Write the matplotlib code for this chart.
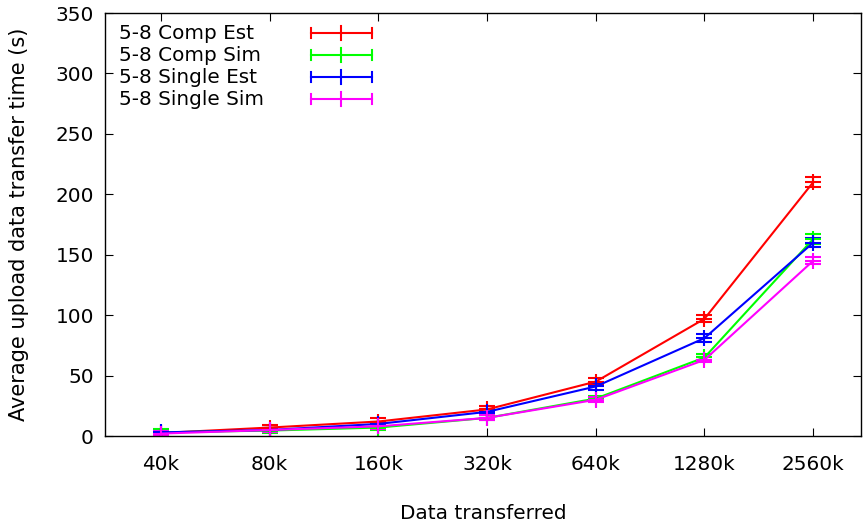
import numpy as np
import matplotlib
matplotlib.use("Agg")
import matplotlib.pyplot as plt
from matplotlib.lines import Line2D

sizes = ["40k", "80k", "160k", "320k", "640k", "1280k", "2560k"]

comp_est = [2.5, 7, 12, 22, 45, 97, 210]
comp_est_err = [1.5, 2.5, 3, 3, 3, 3, 4]
comp_sim = [3, 4.5, 7, 15, 31, 65, 163]
comp_sim_err = [3, 2, 2, 2, 2, 3, 4]
single_est = [3, 5, 10, 20, 41, 81, 160]
single_est_err = [1.5, 1.5, 2, 2, 3, 3, 4]
single_sim = [2, 5, 8, 15, 30, 63, 145]
single_sim_err = [2, 2, 2, 2, 2, 2, 3]

series = [
    ("5-8 Comp Est", comp_est, comp_est_err, "#ff0000"),
    ("5-8 Comp Sim", comp_sim, comp_sim_err, "#00ff00"),
    ("5-8 Single Est", single_est, single_est_err, "#0000ff"),
    ("5-8 Single Sim", single_sim, single_sim_err, "#ff00ff"),
]

plt.rcParams["font.family"] = "DejaVu Sans"
fig = plt.figure(figsize=(8.63, 5.25), dpi=100)
ax = fig.add_axes([0.1217, 0.1695, 0.8760, 0.8057])

x = np.arange(len(sizes))
for name, vals, err, col in series:
    ax.errorbar(x, vals, yerr=err, color=col, lw=1.5, marker="+", ms=11, mew=1.5,
                capsize=6, capthick=1.5, elinewidth=1.5)

fs = 14.4
ax.set_xlim(-0.515, 6.44)
ax.set_ylim(0, 350)
ax.set_yticks(np.arange(0, 351, 50))
ax.set_xticks(x)
ax.set_xticklabels(sizes)
ax.tick_params(direction="in", length=6, width=0.8, top=True, right=True, labelsize=fs)
ax.tick_params(axis="x", pad=14)
ax.tick_params(axis="y", pad=8)
ax.set_xlabel("Data transferred", fontsize=fs, labelpad=21)
ax.set_ylabel("Average upload data transfer time (s)", fontsize=15, labelpad=19)
for s in ax.spines.values():
    s.set_linewidth(1.0)

# gnuplot-style key
tr = ax.transAxes
x0, x1, xm = (311 - 105) / 756, (372 - 105) / 756, (341 - 105) / 756
for i, (name, vals, err, col) in enumerate(series):
    yy = 1 - (20 + 22 * i) / 423
    ax.text((119 - 105) / 756, yy, name, transform=tr, fontsize=fs, va="center", ha="left")
    ax.add_line(Line2D([x0, x1], [yy, yy], color=col, lw=1.5, transform=tr))
    dy = 5 / 423
    for xx in (x0, x1):
        ax.add_line(Line2D([xx, xx], [yy - dy, yy + dy], color=col, lw=1.5, transform=tr))
    ax.add_line(Line2D([xm, xm], [yy - 1.4 * dy, yy + 1.4 * dy], color=col, lw=1.5, transform=tr))

fig.savefig("out.png", dpi=100)
